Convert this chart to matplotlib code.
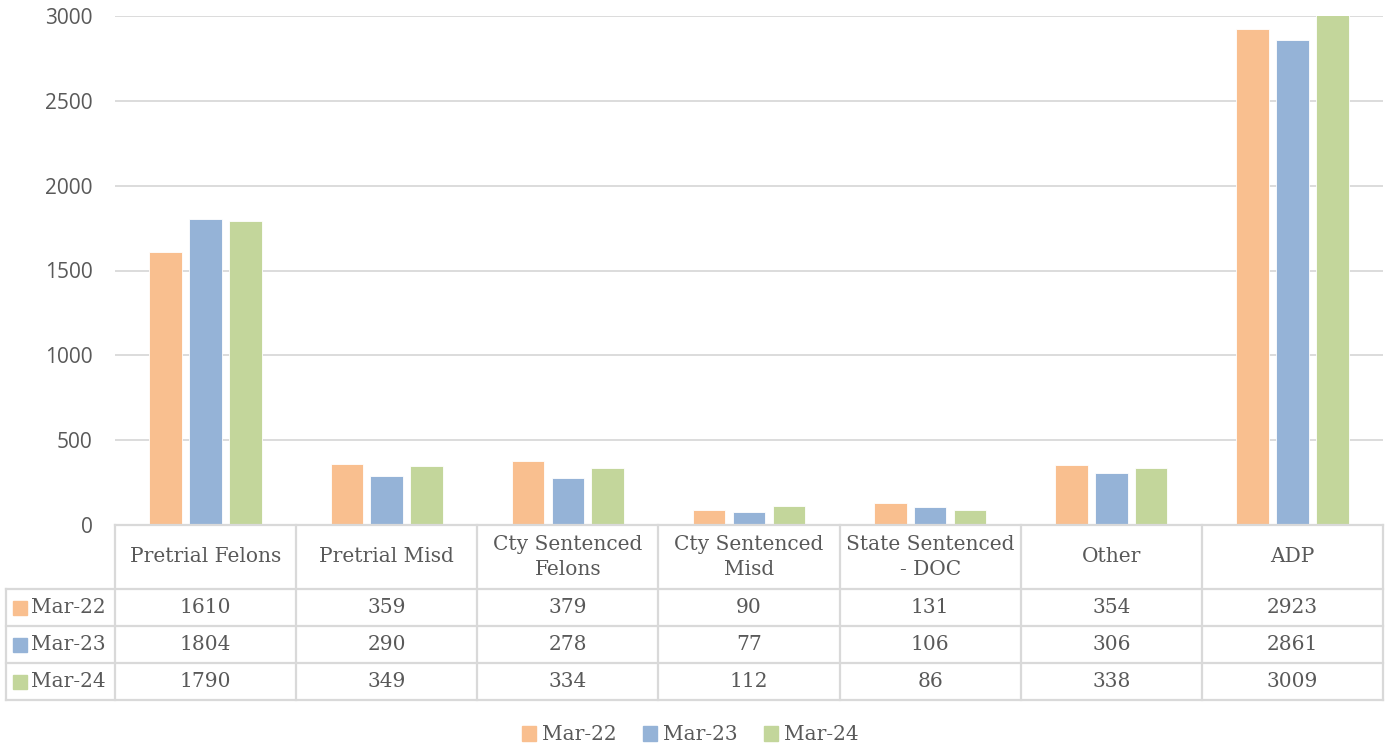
import matplotlib.pyplot as plt
import numpy as np

categories = ['Pretrial Felons', 'Pretrial Misd', 'Cty Sentenced\nFelons', 'Cty Sentenced\nMisd',
              'State Sentenced\n- DOC', 'Other', 'ADP']
series = ['Mar-22', 'Mar-23', 'Mar-24']
mar22 = [1610, 359, 379, 90, 131, 354, 2923]
mar23 = [1804, 290, 278, 77, 106, 306, 2861]
mar24 = [1790, 349, 334, 112, 86, 338, 3009]
colors = ['#F9BF8F', '#95B3D7', '#C3D69B']
yticks = [0, 500, 1000, 1500, 2000, 2500, 3000]

W, H = 1390, 751
fig = plt.figure(figsize=(W / 100, H / 100), dpi=100)

def fx(px):
    return px / W

def fy(py):
    return 1 - py / H

left, right, top, base = 115, 1383, 16, 525
ax = fig.add_axes([fx(left), fy(base), fx(right - left), fy(top) - fy(base)])

x = np.arange(len(categories))
bw = 0.18
step = 0.22
for i, vals in enumerate([mar22, mar23, mar24]):
    ax.bar(x + (i - 1) * step, vals, bw, color=colors[i], edgecolor='white', linewidth=0.6,
           zorder=3)

ax.set_xlim(-0.5, len(categories) - 0.5)
ax.set_ylim(0, 3000)
ax.set_yticks(yticks)
ax.set_yticklabels([str(v) for v in yticks], fontfamily='Open Sans', fontsize=15, color='#595959')
ax.tick_params(axis='y', length=0, pad=16)
ax.set_xticks([])
ax.grid(axis='y', color='#D9D9D9', linewidth=1.3, zorder=0)
for s in ax.spines.values():
    s.set_visible(False)

# data table drawn below the axes
lc = '#D9D9D9'
lw = 1.6
col_w = (right - left) / len(categories)
rows_y = [base, 589, 626, 663, 700]
tab_left = 6

def hline(y, x0, x1):
    fig.add_artist(plt.Line2D([fx(x0), fx(x1)], [fy(y), fy(y)], color=lc, lw=lw))

def vline(xp, y0, y1):
    fig.add_artist(plt.Line2D([fx(xp), fx(xp)], [fy(y0), fy(y1)], color=lc, lw=lw))

hline(base, left, right)
for y in rows_y[1:]:
    hline(y, tab_left, right)
vline(tab_left, rows_y[1], rows_y[-1])
for j in range(len(categories) + 1):
    vline(left + j * col_w, base, rows_y[-1])

tsize = 14.5
tfont = dict(fontfamily='DejaVu Serif', fontsize=tsize, color='#595959', ha='center', va='center')
for j, c in enumerate(categories):
    cx = left + (j + 0.5) * col_w
    fig.text(fx(cx), fy((rows_y[0] + rows_y[1]) / 2), c, linespacing=1.35, **tfont)
    for r, vals in enumerate([mar22, mar23, mar24]):
        cy = (rows_y[r + 1] + rows_y[r + 2]) / 2
        fig.text(fx(cx), fy(cy), str(vals[j]), **tfont)

for r, name in enumerate(series):
    cy = (rows_y[r + 1] + rows_y[r + 2]) / 2
    fig.add_artist(plt.Rectangle((fx(13), fy(cy + 7)), fx(14), fy(0) - fy(14),
                                 color=colors[r], transform=fig.transFigure))
    fig.text(fx(31), fy(cy), name, fontfamily='DejaVu Serif', fontsize=tsize, color='#595959',
             ha='left', va='center')

# legend
handles = [plt.Rectangle((0, 0), 1, 1, color=c) for c in colors]
fig.legend(handles, series, loc='center', bbox_to_anchor=(fx(690), fy(735)), ncol=3,
           frameon=False, handlelength=0.7, handleheight=0.7, handletextpad=0.3,
           columnspacing=1.3, prop={'family': 'DejaVu Serif', 'size': tsize},
           labelcolor='#595959')

fig.savefig('out.png', dpi=100)
